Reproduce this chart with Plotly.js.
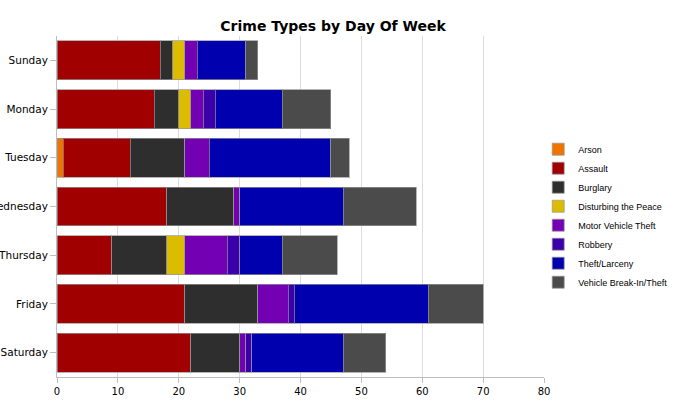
<!DOCTYPE html>
<html>
<head>
<meta charset="utf-8">
<script src="https://cdn.plot.ly/plotly-3.0.1.min.js"></script>
<style>
  body { margin: 0; background: #fff; }
  #chart { width: 677px; height: 402px; }
</style>
</head>
<body>
<div id="chart"></div>
<script>
const days = ['Sunday', 'Monday', 'Tuesday', 'Wednesday', 'Thursday', 'Friday', 'Saturday'];

const arson       = [0, 0, 1, 0, 0, 0, 0];
const assault     = [17, 16, 11, 18, 9, 21, 22];
const burglary    = [2, 4, 9, 11, 9, 12, 8];
const disturbing  = [2, 2, 0, 0, 3, 0, 0];
const motorTheft  = [2, 2, 4, 1, 7, 5, 1];
const robbery     = [0, 2, 0, 0, 2, 1, 1];
const larceny     = [8, 11, 20, 17, 7, 22, 15];
const vehicleBreak = [2, 8, 3, 12, 9, 9, 7];

const seriesNames = ['Arson', 'Assault', 'Burglary', 'Disturbing the Peace',
    'Motor Vehicle Theft', 'Robbery', 'Theft/Larceny', 'Vehicle Break-In/Theft'];
const seriesValues = [arson, assault, burglary, disturbing, motorTheft, robbery, larceny, vehicleBreak];
const colors = ['#f07400', '#a00000', '#2e2e2e', '#dcbc00', '#7400b4', '#3c00aa', '#0000ae', '#4b4b4b'];

const traces = seriesNames.map(function (name, i) {
    return {
        type: 'bar',
        orientation: 'h',
        name: name,
        y: days,
        x: seriesValues[i],
        width: 0.8,
        marker: {color: colors[i], line: {color: 'rgba(150,150,150,0.7)', width: 1}},
        hoverinfo: 'none'
    };
});

const layout = {
    width: 677,
    height: 402,
    margin: {l: 57, r: 133, t: 36, b: 25, autoexpand: false},
    paper_bgcolor: '#fff',
    plot_bgcolor: '#fff',
    barmode: 'stack',
    title: {
        text: '<b>Crime Types by Day Of Week</b>',
        font: {family: 'DejaVu Sans', size: 14, color: '#000'},
        x: 0.492, xanchor: 'center',
        y: 0.936, yanchor: 'middle'
    },
    xaxis: {
        range: [0, 80],
        dtick: 10,
        showgrid: true,
        gridcolor: '#dcdcdc',
        zeroline: false,
        showline: true,
        linecolor: '#bdbdbd',
        ticks: 'outside',
        ticklen: 5,
        tickcolor: '#bdbdbd',
        tickfont: {family: 'DejaVu Sans', size: 10, color: '#000'}
    },
    yaxis: {
        categoryorder: 'array',
        categoryarray: days,
        autorange: 'reversed',
        showgrid: false,
        showline: true,
        linecolor: '#bdbdbd',
        ticks: 'outside',
        ticklen: 6,
        tickcolor: '#bdbdbd',
        tickfont: {family: 'DejaVu Sans', size: 10.5, color: '#000'}
    },
    legend: {
        xref: 'container',
        x: 0.795, xanchor: 'left',
        y: 0.473, yanchor: 'middle',
        traceorder: 'normal',
        font: {family: 'Liberation Sans', size: 9, color: '#000'},
        itemwidth: 30,
        tracegroupgap: 0
    },
    showlegend: true
};

Plotly.newPlot('chart', traces, layout, {displayModeBar: false, staticPlot: true});
</script>
</body>
</html>
